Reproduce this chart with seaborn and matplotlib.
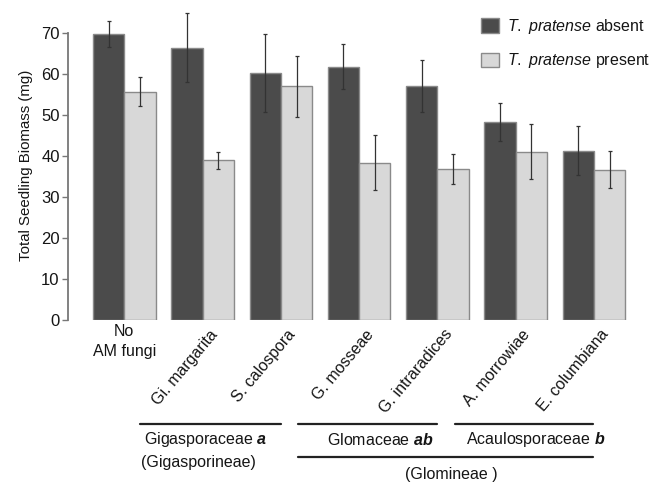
import matplotlib
matplotlib.use("Agg")
import matplotlib.pyplot as plt
import matplotlib.transforms as mtransforms
import seaborn as sns
import pandas as pd

# ---- data ----
categories = ["No\nAM fungi", "Gi. margarita", "S. calospora", "G. mosseae",
              "G. intraradices", "A. morrowiae", "E. columbiana"]
absent_mean = [69.7, 66.4, 60.3, 61.8, 57.1, 48.3, 41.3]
absent_err = [3.2, 8.4, 9.5, 5.5, 6.4, 4.6, 6.0]
present_mean = [55.7, 38.9, 57.0, 38.4, 36.8, 41.0, 36.7]
present_err = [3.6, 2.0, 7.4, 6.8, 3.7, 6.7, 4.5]
hue_labels = [r"$\mathit{T.\ pratense}$ absent", r"$\mathit{T.\ pratense}$ present"]
y_ticks = [0, 10, 20, 30, 40, 50, 60, 70]
families = ["Gigasporaceae", "Glomaceae", "Acaulosporaceae"]
family_letters = ["a", "ab", "b"]
suborders = ["(Gigasporineae)", "(Glomineae )"]

sns.set_style("white")
plt.rcParams["font.family"] = ["Liberation Sans", "DejaVu Sans"]
plt.rcParams["mathtext.fontset"] = "custom"
plt.rcParams["mathtext.it"] = "Liberation Sans:italic"
plt.rcParams["mathtext.rm"] = "Liberation Sans"
plt.rcParams["mathtext.bf"] = "Liberation Sans:bold"
plt.rcParams["mathtext.bfit"] = "Liberation Sans:bold:italic"

df = pd.DataFrame({
    "cat": categories * 2,
    "val": absent_mean + present_mean,
    "cond": [hue_labels[0]] * len(categories) + [hue_labels[1]] * len(categories),
})

dark = "#4b4b4b"
light = "#d8d8d8"
txt = "#151515"
fs = 11.5

fig = plt.figure(figsize=(6.64, 4.84), dpi=100)
ax = fig.add_axes([68 / 664, 164 / 484, 565 / 664, 310 / 484])
sns.barplot(data=df, x="cat", y="val", hue="cond", order=categories,
            hue_order=hue_labels, palette=[dark, light], errorbar=None,
            width=0.8, edgecolor="#8a8a8a", linewidth=1.0, ax=ax)

# error bars at bar centres
for cont, errs in zip(ax.containers, [absent_err, present_err]):
    xs = [b.get_x() + b.get_width() / 2 for b in cont]
    ys = [b.get_height() for b in cont]
    ax.errorbar(xs, ys, yerr=errs, fmt="none", ecolor="#333333",
                elinewidth=0.9, capsize=1.5, capthick=0.9, zorder=5)

ax.set_xlim(-0.72, 6.5)
ax.set_ylim(0, 75.6)
ax.set_yticks(y_ticks)
ax.tick_params(axis="y", length=4, width=1.0, color="#777777",
               labelsize=12, labelcolor=txt, pad=2, left=True)
ax.tick_params(axis="x", length=0, labelbottom=False)
for s in ["top", "right", "bottom"]:
    ax.spines[s].set_visible(False)
ax.spines["left"].set_bounds(0, 70)
ax.spines["left"].set_color("#777777")
ax.spines["left"].set_linewidth(1.3)
ax.set_xlabel("")
ax.set_ylabel("Total Seedling Biomass (mg)", fontsize=10.8, color=txt, labelpad=6)

# category labels
ytrans = mtransforms.blended_transform_factory(ax.transData, ax.transAxes)
ax.text(0, -0.012, categories[0], transform=ytrans, ha="center", va="top",
        fontsize=fs, color=txt, linespacing=1.4)
for i, lab in enumerate(categories[1:], start=1):
    ax.text(i + 0.08, -0.022, lab, transform=ytrans, ha="right", va="top",
            rotation=50, rotation_mode="anchor", fontsize=fs, color=txt)

# family grouping lines
line_kw = dict(transform=ytrans, clip_on=False, color="#222222", lw=1.6)
spans = [(0.2, 2.0), (2.22, 4.0), (4.22, 5.99)]
for (a, b) in spans:
    ax.plot([a, b], [-0.335, -0.335], **line_kw)
ax.plot([2.22, 5.99], [-0.442, -0.442], **line_kw)

fam_y = -0.387
ax.text(0.25, fam_y, families[0] + r" $\mathbfit{" + family_letters[0] + "}$",
        transform=ytrans, ha="left", va="center", fontsize=fs, color=txt)
ax.text(3.27, fam_y, families[1] + r" $\mathbfit{" + family_letters[1] + "}$",
        transform=ytrans, ha="center", va="center", fontsize=fs, color=txt)
ax.text(5.26, fam_y, families[2] + r" $\mathbfit{" + family_letters[2] + "}$",
        transform=ytrans, ha="center", va="center", fontsize=fs, color=txt)
ax.text(0.21, -0.461, suborders[0], transform=ytrans, ha="left", va="center",
        fontsize=fs, color=txt)
ax.text(4.18, -0.50, suborders[1], transform=ytrans, ha="center", va="center",
        fontsize=fs, color=txt)

# legend
handles, labels = ax.get_legend_handles_labels()
ax.legend(handles, labels, loc="upper left", bbox_to_anchor=(481 / 664, 1 - 17 / 484),
          bbox_transform=fig.transFigure, frameon=False, fontsize=fs,
          handlelength=1.15, handleheight=1.0, handletextpad=0.45,
          labelspacing=0.95, borderpad=0, borderaxespad=0, labelcolor=txt)

fig.savefig("out.png", dpi=100)
